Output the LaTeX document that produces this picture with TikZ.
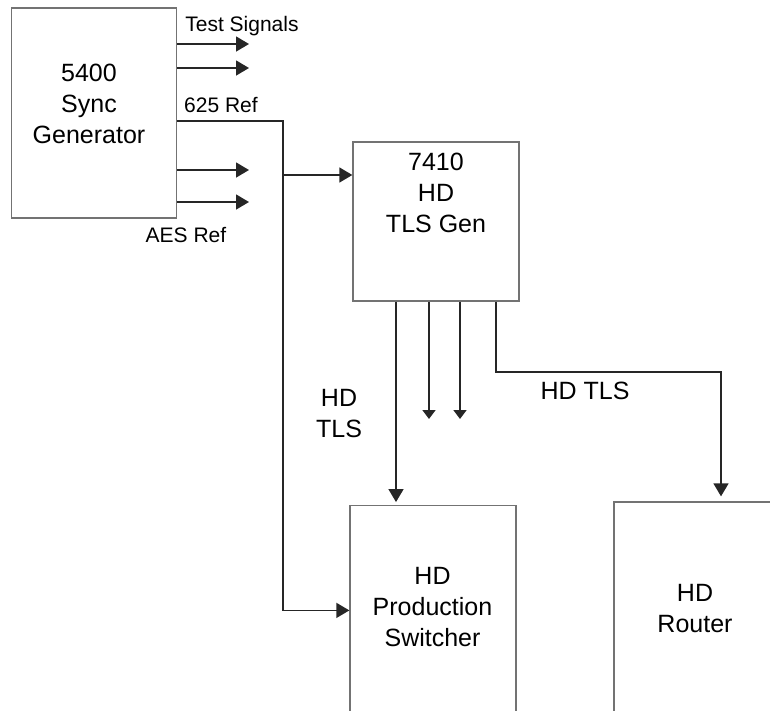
\documentclass[tikz,border=0pt]{standalone}
\usepackage{fontspec}
\setmainfont{Liberation Sans}
\usetikzlibrary{arrows.meta,positioning,calc}

\begin{document}
\begin{tikzpicture}[
    x=1pt, y=-1pt,
    box/.style={draw=black!55, line width=1.3pt, minimum width=166pt, minimum height=210pt, inner sep=0pt},
    txt/.style={align=center, inner sep=0pt, font=\fontsize{25}{31}\selectfont},
    lbl/.style={inner sep=0pt, font=\fontsize{21}{25}\selectfont},
    wire/.style={line width=1.5pt, draw=black!85},
    arrow/.style={wire, -{Triangle[length=13pt,width=15pt]}},
    tick/.style={wire, -{Triangle[length=9pt,width=13pt]}}
]
\useasboundingbox (0,0) rectangle (770,710);
\clip (0,0) rectangle (770,710);

% Boxes
\node[box, minimum width=165pt] (sync) at (94,113) {};
\node[box, minimum height=159pt] (tls) at (436,221.5) {};
\node[box] (prod) at (433,610.7) {};
\node[box] (router) at (697,607) {};

% Box texts
\node[txt] (syncT) at (89,104) {5400\\Sync\\Generator};
\node[txt] (tlsT) at (436,193) {7410\\HD\\TLS Gen};
\node[txt] (prodT) at (432.5,607) {HD\\Production\\Switcher};
\node[txt] (routerT) at (695,609) {HD\\Router};

% Labels
\node[lbl] (testL) at (242,26) {Test Signals};
\node[lbl] (refL) at (221,105) {625 Ref};
\node[lbl] (aesL) at (186,234.5) {AES Ref};
\node[txt] (tlsL) at (339,414) {HD\\TLS};
\node[txt] (tlsR) at (585,391) {HD TLS};

% Free ends
\coordinate (t1) at (249,44);
\coordinate (t2) at (249,68);
\coordinate (t3) at (249,170);
\coordinate (t4) at (249,202);
\coordinate (ref) at (283,121);
\coordinate (d1) at (429,419);
\coordinate (d2) at (460,419);
\coordinate (rin) at ([xshift=24pt]router.north);

% Sync generator outputs
\draw[arrow] (sync.east |- t1) -- (t1);
\draw[arrow] (sync.east |- t2) -- (t2);
\draw[arrow] (sync.east |- t3) -- (t3);
\draw[arrow] (sync.east |- t4) -- (t4);

% 625 Ref
\draw[arrow] (sync.east |- ref) -- (ref) |- ([yshift=0.3pt]prod.west);
\draw[arrow] ($(ref)+(0,54)$) -- (tls.west |- 0,175);

% TLS outputs
\draw[arrow, shorten >=3pt] ([xshift=-40pt]tls.south) -- ([xshift=-40pt]tls.south |- prod.north);
\draw[tick] (tls.south -| d1) -- (d1);
\draw[tick] (tls.south -| d2) -- (d2);
\draw[arrow, shorten >=5pt] ([xshift=60pt]tls.south) |- (rin |- 0,372) -- (rin);

\end{tikzpicture}
\end{document}
